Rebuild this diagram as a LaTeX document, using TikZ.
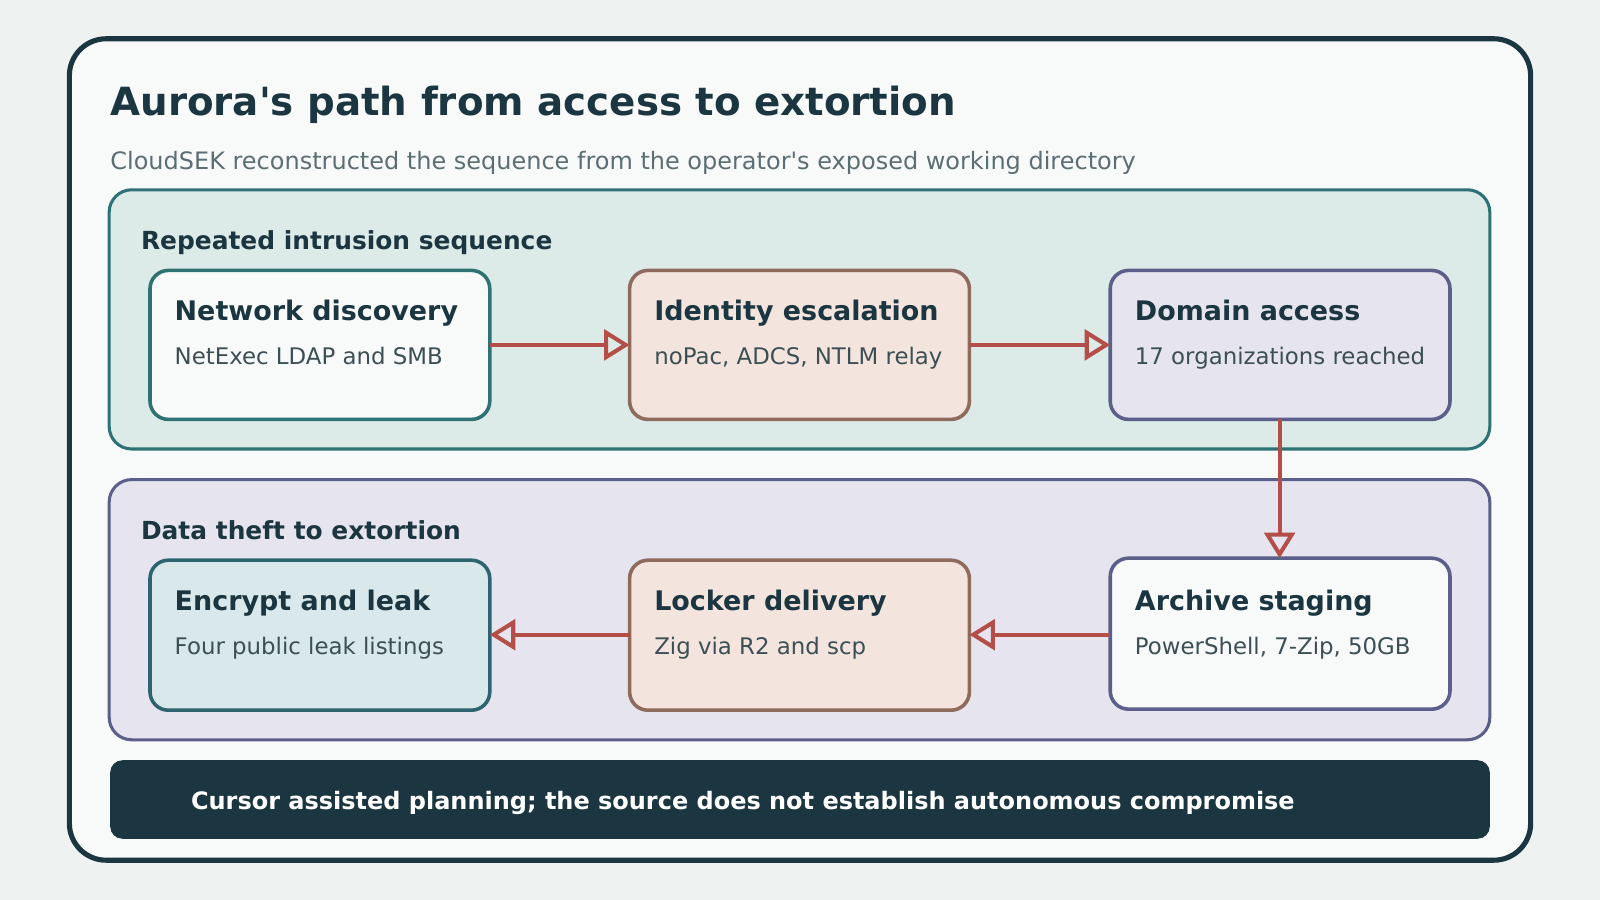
\documentclass[tikz,border=0pt]{standalone}
\usepackage{fontspec}
\setmainfont{DejaVu Sans}[Ligatures=TeXOff]
\usetikzlibrary{arrows.meta}
\definecolor{bgc}{HTML}{EEF3F2}
\definecolor{cardc}{HTML}{F7FAF9}
\definecolor{inkc}{HTML}{1B3640}
\definecolor{subc}{HTML}{5B6E74}
\definecolor{txtc}{HTML}{3C4F55}
\definecolor{tealfill}{HTML}{DDEBE8}
\definecolor{tealline}{HTML}{2F7273}
\definecolor{purpfill}{HTML}{E6E5EF}
\definecolor{purpline}{HTML}{5B5F8A}
\definecolor{brownfill}{HTML}{F3E5DE}
\definecolor{brownline}{HTML}{8F6B5D}
\definecolor{encfill}{HTML}{D8E8EB}
\definecolor{encline}{HTML}{2D6470}
\definecolor{redc}{HTML}{B44E48}
\tikzset{
  grp/.style={draw, line width=3pt, rounded corners=22pt},
  card/.style={draw, line width=3.5pt, rounded corners=18pt},
  boxtitle/.style={anchor=base west, inner sep=0pt, text=inkc, font=\fontsize{26.4}{30}\selectfont\bfseries},
  boxsub/.style={anchor=base west, inner sep=0pt, text=txtc, font=\fontsize{22.4}{26}\selectfont},
  grplabel/.style={anchor=base west, inner sep=0pt, text=inkc, font=\fontsize{24.4}{28}\selectfont\bfseries},
  flow/.style={draw=redc, line width=4pt, -{Triangle[open, length=25pt, width=30pt, line width=4pt]}},
}
\begin{document}
\begin{tikzpicture}[x=1pt, y=-1pt]
\fill[bgc] (0,0) rectangle (1568,882);
\useasboundingbox (0,0) rectangle (1568,882);
% outer card
\draw[fill=cardc, draw=inkc, line width=5pt, rounded corners=36pt] (68,38) rectangle (1500,843);
\node[anchor=base west, inner sep=0pt, text=inkc, font=\fontsize{38}{44}\selectfont\bfseries] (title) at (108,113) {Aurora's path from access to extortion};
\node[anchor=base west, inner sep=0pt, text=subc, font=\fontsize{23.5}{27}\selectfont] (subtitle) at (108,166) {CloudSEK reconstructed the sequence from the operator's exposed working directory};
% groups
\draw[grp, fill=tealfill, draw=tealline] (107,186) rectangle (1460,440);
\node[grplabel] (g1) at (138,245) {Repeated intrusion sequence};
\draw[grp, fill=purpfill, draw=purpline] (107,470) rectangle (1460,725);
\node[grplabel] (g2) at (138,529) {Data theft to extortion};
% row 1 boxes
\draw[card, fill=cardc, draw=tealline] (147,265) rectangle (480,411);
\coordinate (b1w) at (147,338); \coordinate (b1e) at (480,338);
\node[boxtitle] (t1) at (171,314) {Network discovery};
\node[boxsub] (s1) at (171,357) {NetExec LDAP and SMB};
\draw[card, fill=brownfill, draw=brownline] (617,265) rectangle (950,411);
\coordinate (b2w) at (617,338); \coordinate (b2e) at (950,338);
\node[boxtitle] (t2) at (641,314) {Identity escalation};
\node[boxsub] (s2) at (641,357) {noPac, ADCS, NTLM relay};
\draw[card, fill=purpfill, draw=purpline] (1088,265) rectangle (1421,411);
\coordinate (b3w) at (1088,338); \coordinate (b3s) at (1254,411);
\node[boxtitle] (t3) at (1112,314) {Domain access};
\node[boxsub] (s3) at (1112,357) {17 organizations reached};
% row 2 boxes
\draw[card, fill=encfill, draw=encline] (147,549) rectangle (480,696);
\coordinate (b4e) at (480,622);
\node[boxtitle] (t4) at (171,598) {Encrypt and leak};
\node[boxsub] (s4) at (171,641) {Four public leak listings};
\draw[card, fill=brownfill, draw=brownline] (617,549) rectangle (950,696);
\coordinate (b5w) at (617,622); \coordinate (b5e) at (950,622);
\node[boxtitle] (t5) at (641,598) {Locker delivery};
\node[boxsub] (s5) at (641,641) {Zig via R2 and scp};
\draw[card, fill=cardc, draw=purpline] (1088,547) rectangle (1421,695);
\coordinate (b6w) at (1088,622); \coordinate (b6n) at (1254,547);
\node[boxtitle] (t6) at (1112,598) {Archive staging};
\node[boxsub] (s6) at (1112,641) {PowerShell, 7-Zip, 50GB};
% connectors
\draw[flow] (b1e) -- (b2w);
\draw[flow] (b2e) -- (b3w);
\draw[flow] (b3s) -- (b6n);
\draw[flow] (b6w) -- (b5e);
\draw[flow] (b5w) -- (b4e);
% footer
\fill[inkc, rounded corners=12pt] (108,745) rectangle (1460,822);
\node[anchor=base west, inner sep=0pt, text=white, font=\fontsize{23.5}{27}\selectfont\bfseries] (foot) at (187,793) {Cursor assisted planning; the source does not establish autonomous compromise};
\end{tikzpicture}
\end{document}
